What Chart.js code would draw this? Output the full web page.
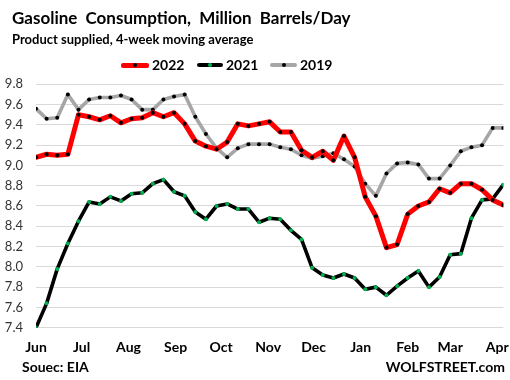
<!DOCTYPE html>
<html>
<head>
<meta charset="utf-8">
<script src="https://cdn.jsdelivr.net/npm/chart.js@4/dist/chart.umd.min.js"></script>
<style>
  html, body { margin: 0; padding: 0; background: #fff; }
  #wrap { position: relative; width: 510px; height: 380px; overflow: hidden; background: #fff; font-family: Lato, "Open Sans", sans-serif; color: #000; }
  #c { position: absolute; left: 0; top: 0; }
  .t { position: absolute; white-space: nowrap; font-weight: bold; line-height: 1; }
  #title { left: 12px; top: 8.5px; font-size: 17px; word-spacing: 4px; }
  #sub { left: 12px; top: 33px; font-size: 13px; }
  #src { left: 22px; top: 360px; font-size: 14px; }
  #wolf { right: 5px; top: 359.5px; font-size: 14px; }
  .lg { position: absolute; top: 57.6px; font-size: 14px; font-weight: bold; line-height: 1; }
  .ln { position: absolute; }
  .dot { position: absolute; width: 4px; height: 4px; border-radius: 50%; }
</style>
</head>
<body>
<div id="wrap">
  <canvas id="c" width="510" height="380"></canvas>
  <div class="t" id="title">Gasoline Consumption, Million Barrels/Day</div>
  <div class="t" id="sub">Product supplied, 4-week moving average</div>
  <div class="ln" style="left:121px;top:62.5px;width:28px;height:5px;background:#ff0000;border-radius:2px;"></div>
  <div class="dot" style="left:133px;top:63px;background:#000;"></div>
  <div class="lg" style="left:152px;">2022</div>
  <div class="ln" style="left:197px;top:63.2px;width:26px;height:3.6px;background:#000;border-radius:2px;"></div>
  <div class="dot" style="left:208px;top:63px;background:#00b050;"></div>
  <div class="lg" style="left:226px;">2021</div>
  <div class="ln" style="left:270px;top:63.2px;width:27px;height:3.6px;background:#a6a6a6;border-radius:2px;"></div>
  <div class="dot" style="left:281.5px;top:63px;background:#000;"></div>
  <div class="lg" style="left:300px;">2019</div>
  <div class="t" id="src">Souec: EIA</div>
  <div class="t" id="wolf">WOLFSTREET.com</div>
</div>
<script>
// Month tick labels and their start day (days after the first weekly data point)
const monthLabels = ['Jun', 'Jul', 'Aug', 'Sep', 'Oct', 'Nov', 'Dec', 'Jan', 'Feb', 'Mar', 'Apr'];
const monthStartDays = [0, 30, 61, 92, 122, 153, 183, 214, 245, 273, 304];

// Weekly values, million barrels/day (4-week moving average)
const series2022 = [9.08, 9.11, 9.10, 9.11, 9.50, 9.48, 9.45, 9.49, 9.42, 9.46, 9.47, 9.52, 9.48, 9.52, 9.41,
  9.24, 9.19, 9.16, 9.23, 9.41, 9.39, 9.41, 9.43, 9.33, 9.33, 9.15, 9.08, 9.14, 9.05, 9.29,
  9.08, 8.69, 8.50, 8.19, 8.22, 8.52, 8.60, 8.64, 8.77, 8.73, 8.82, 8.82, 8.76, 8.66, 8.61];
const series2021 = [7.40, 7.64, 7.98, 8.23, 8.45, 8.64, 8.62, 8.69, 8.65, 8.72, 8.73, 8.82, 8.86, 8.74, 8.70,
  8.54, 8.47, 8.60, 8.62, 8.57, 8.57, 8.44, 8.48, 8.47, 8.36, 8.27, 7.99, 7.92, 7.89, 7.93,
  7.89, 7.78, 7.80, 7.72, 7.81, 7.89, 7.96, 7.80, 7.90, 8.12, 8.13, 8.48, 8.66, 8.67, 8.81];
const series2019 = [9.56, 9.46, 9.47, 9.70, 9.55, 9.65, 9.67, 9.67, 9.69, 9.65, 9.55, 9.55, 9.65, 9.68, 9.70,
  9.48, 9.31, 9.17, 9.08, 9.17, 9.21, 9.21, 9.21, 9.18, 9.16, 9.10, 9.07, 9.09, 9.12, 9.06,
  8.99, 8.82, 8.70, 8.92, 9.02, 9.03, 9.01, 8.87, 8.87, 9.00, 9.14, 9.18, 9.20, 9.37, 9.37];
const seriesNames = ['2022', '2021', '2019'];

const toPoints = arr => arr.map((v, i) => ({ x: i, y: v }));

new Chart(document.getElementById('c'), {
  type: 'line',
  data: {
    datasets: [
      { label: seriesNames[0], data: toPoints(series2022), borderColor: '#ff0000', borderWidth: 5,
        pointRadius: 2, pointBackgroundColor: '#000', pointBorderWidth: 0, order: 0 },
      { label: seriesNames[1], data: toPoints(series2021), borderColor: '#000000', borderWidth: 3.6,
        pointRadius: 2, pointBackgroundColor: '#00b050', pointBorderWidth: 0, order: 1 },
      { label: seriesNames[2], data: toPoints(series2019), borderColor: '#a6a6a6', borderWidth: 3.6,
        pointRadius: 2, pointBackgroundColor: '#000', pointBorderWidth: 0, order: 2 }
    ]
  },
  options: {
    responsive: false,
    animation: false,
    devicePixelRatio: 1,
    layout: { padding: { left: 0, right: 6.7, top: 84.3, bottom: 0 } },
    elements: { line: { tension: 0, borderJoinStyle: 'round', borderCapStyle: 'round' } },
    plugins: { legend: { display: false }, tooltip: { enabled: false }, title: { display: false } },
    scales: {
      x: {
        type: 'linear', min: 0, max: 44,
        grid: { display: false }, border: { display: false },
        afterBuildTicks: s => { s.ticks = monthStartDays.map(d => ({ value: d / 7 })); },
        afterFit: s => { s.height = 52.3; s.paddingLeft = 0; s.paddingRight = 0; },
        ticks: {
          autoSkip: false, maxRotation: 0, minRotation: 0, padding: 3, color: '#000',
          font: { family: 'Lato', weight: 'bold', size: 14 },
          callback: (v, i) => monthLabels[i]
        }
      },
      y: {
        min: 7.4, max: 9.8,
        grid: { color: '#d9d9d9', lineWidth: 1, drawTicks: false },
        border: { display: false },
        afterFit: s => { s.width = 36; },
        ticks: {
          stepSize: 0.2, padding: 13, color: '#333',
          font: { family: 'Lato', size: 13 },
          callback: v => v.toFixed(1)
        }
      }
    }
  }
});
</script>
</body>
</html>
